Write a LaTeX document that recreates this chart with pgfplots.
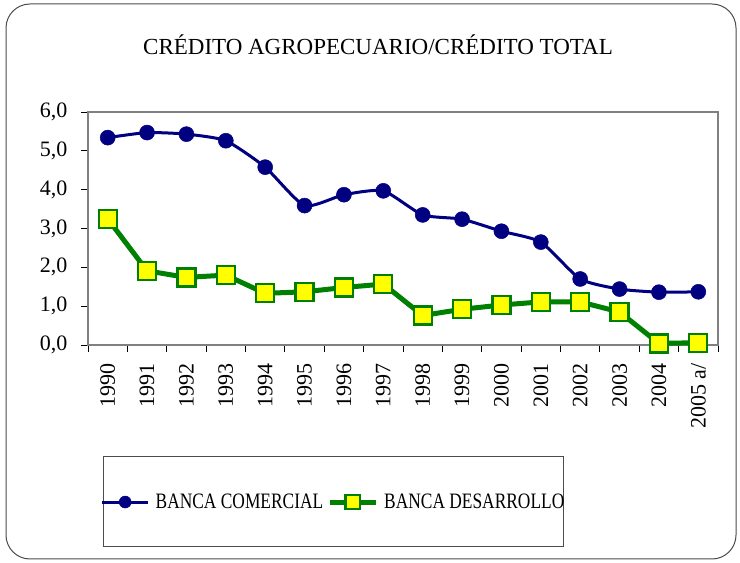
\documentclass[border=0pt]{standalone}
\usepackage{fontspec}
\setmainfont{Liberation Serif}
\newfontfamily\legfont[FakeStretch=0.79]{Liberation Serif}
\usepackage{pgfplots}
\pgfplotsset{compat=1.18}
\definecolor{navyb}{RGB}{0,0,128}
\definecolor{greenb}{RGB}{0,128,0}
\definecolor{yellowb}{RGB}{255,255,0}
\definecolor{frame}{RGB}{128,128,128}
\begin{document}
\begin{tikzpicture}[x=1pt,y=1pt]
\path[use as bounding box] (0,0) rectangle (740,563);
\draw[black!70, line width=1pt, rounded corners=24pt] (6,4) rectangle (736,559);
\node[font=\fontsize{23}{27}\selectfont] at (378,518) {CRÉDITO AGROPECUARIO/CRÉDITO TOTAL};
\draw[black!70, line width=0.8pt] (103,17) rectangle (563,107);
\begin{axis}[
  at={(88pt,218pt)}, anchor=south west,
  scale only axis, width=630pt, height=233pt,
  xmin=-0.5, xmax=15.5, ymin=0, ymax=6,
  ytick={0,1,...,6},
  xtick={0,...,15},
  xticklabels={1990,1991,1992,1993,1994,1995,1996,1997,1998,1999,2000,2001,2002,2003,2004,2005 a/},
  major x tick style={draw=none},
  minor xtick={-0.5,0.5,...,15.5},
  tick pos=left,
  tick align=outside,
  major tick length=7pt, minor tick length=7pt,
  axis line style={draw=frame, line width=2.5pt},
  every tick/.style={black, line width=0.8pt},
  /pgf/number format/assume math mode=true,
  /pgf/number format/.cd, use comma, fixed, fixed zerofill, precision=1,
  /pgfplots/.cd,
  x tick label style={rotate=90, anchor=east, xshift=-8pt, font=\fontsize{22}{26}\selectfont},
  y tick label style={xshift=-10pt, font=\fontsize{22}{26}\selectfont},
  clip=false,
  legend columns=2,
  legend style={draw=none, fill=none, at={(0.3897,-0.674)}, anchor=center,
    font=\legfont\fontsize{22}{26}\selectfont, column sep=4pt, inner sep=0pt,
    /tikz/every even column/.append style={column sep=2pt}},
  legend image code/.code={\draw[mark repeat=2,mark phase=2,#1] plot coordinates {(0pt,0pt) (23pt,0pt) (46pt,0pt)};},
  legend image post style={every mark/.append style={scale=0.8}},
]
\addplot[color=navyb, line width=3pt, smooth, tension=0.35, mark=*, mark size=7.5pt,
  mark options={solid, fill=navyb, line width=0.5pt}] coordinates {
(0,5.34) (1,5.47) (2,5.43) (3,5.26) (4,4.58) (5,3.59) (6,3.87) (7,3.97)
(8,3.35) (9,3.24) (10,2.93) (11,2.65) (12,1.70) (13,1.44) (14,1.36) (15,1.37)};
\addlegendentry{BANCA COMERCIAL}
\addplot[color=greenb, line width=5pt, mark=square*, mark size=9pt,
  mark options={solid, fill=yellowb, draw=greenb, line width=2.2pt}] coordinates {
(0,3.25) (1,1.91) (2,1.74) (3,1.80) (4,1.33) (5,1.37) (6,1.48) (7,1.57)
(8,0.76) (9,0.92) (10,1.03) (11,1.11) (12,1.11) (13,0.85) (14,0.04) (15,0.06)};
\addlegendentry{BANCA DESARROLLO}
\end{axis}
\end{tikzpicture}
\end{document}
